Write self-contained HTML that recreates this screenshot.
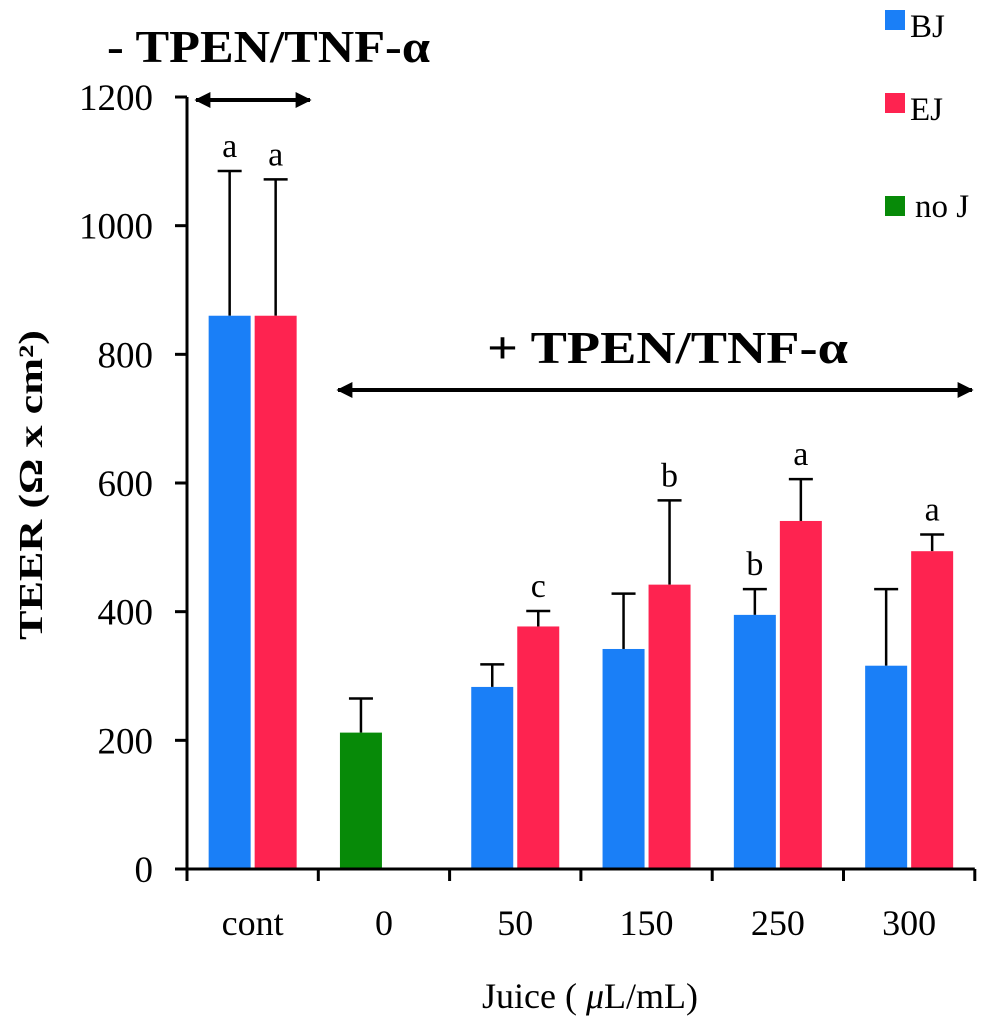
<!DOCTYPE html>
<html><head><meta charset="utf-8"><style>
body{margin:0;background:#fff;}
svg text{font-family:"Liberation Serif",serif;fill:#000;}
</style></head><body>
<svg width="993" height="1024" viewBox="0 0 993 1024" xmlns="http://www.w3.org/2000/svg">
<g id="plot"></g>
</svg>
<script>
const categories=["cont","0","50","150","250","300"];
const bjValues=[860,null,283,342,395,316];
const bjErr=[225,null,35,86,40,119];
const ejValues=[860,null,377,442,541,494];
const ejErr=[212,null,24,131,65,26];
const noJValues=[null,212,null,null,null,null];
const noJErr=[null,53,null,null,null,null];
const bjLetters=["a","","","","b",""];
const ejLetters=["a","","c","b","a","a"];
const yTicks=[0,200,400,600,800,1000,1200];

const NS="http://www.w3.org/2000/svg";
const g=document.getElementById('plot');
const y0=869,y1=97,x0=187,step=131.3;
const y=v=>y0-(v/1200)*(y0-y1);
const cx=i=>x0+step*(i+0.5);
function mk(t,a,txt){const e=document.createElementNS(NS,t);for(const k in a)e.setAttribute(k,a[k]);if(txt!==undefined)e.textContent=txt;g.appendChild(e);return e;}
const bw=42;
function bar(i,v,err,col,off,name){
  if(v==null)return;
  const x=cx(i)+off-bw/2;
  const m=x+bw/2;
  const eb=mk('line',{x1:m,x2:m,y1:y(v),y2:y(v+err),stroke:'#000','stroke-width':2.5});
  
  
  const cap=mk('line',{x1:m-12,x2:m+12,y1:y(v+err),y2:y(v+err),stroke:'#000','stroke-width':2.5});
  
  
  const r=mk('rect',{x:x,y:y(v),width:bw,height:y0-y(v),fill:col});
  
  
}
categories.forEach((c,i)=>{
  bar(i,bjValues[i],bjErr[i],'#1a7ff7',-23,'bar-bj-'+c);
  bar(i,ejValues[i],ejErr[i],'#fe2350',23,'bar-ej-'+c);
  bar(i,noJValues[i],noJErr[i],'#078a08',-23,'bar-noj-'+c);
  if(bjLetters[i]){const t=mk('text',{x:cx(i)-23,y:y(bjValues[i]+bjErr[i])-14,'font-size':34,'text-anchor':'middle'},bjLetters[i]);}
  if(ejLetters[i]){const t=mk('text',{x:cx(i)+23,y:y(ejValues[i]+ejErr[i])-14,'font-size':34,'text-anchor':'middle'},ejLetters[i]);}
  const tl=mk('text',{x:cx(i),y:935,'font-size':36,'text-anchor':'middle'},c);
  
  
});
const ya=mk('line',{x1:x0,x2:x0,y1:y1,y2:y0+1,stroke:'#000','stroke-width':3});


const xa=mk('line',{x1:x0-12,x2:x0+step*6,y1:y0,y2:y0,stroke:'#000','stroke-width':3});


for(let i=0;i<=6;i++){const t=mk('line',{x1:x0+step*i,x2:x0+step*i,y1:y0,y2:y0+12,stroke:'#000','stroke-width':3});}
yTicks.forEach(v=>{
  const t=mk('line',{x1:x0-12,x2:x0,y1:y(v),y2:y(v),stroke:'#000','stroke-width':3});
  
  
  const l=mk('text',{x:153,y:y(v)+13,'font-size':37,'text-anchor':'end'},v);
  
  
});
</script>
<svg style="position:absolute;left:0;top:0" width="993" height="1024" xmlns="http://www.w3.org/2000/svg">
<defs>
<marker id="ah2" viewBox="0 0 10 10" refX="9" refY="5" markerWidth="5" markerHeight="4" orient="auto-start-reverse"><path d="M0,0L10,5L0,10z" fill="#000"/></marker>
</defs>
<text transform="translate(42,485) rotate(-90)" font-size="34" font-weight="bold" text-anchor="middle" textLength="310" lengthAdjust="spacingAndGlyphs" font-family="Liberation Serif,serif">TEER  (Ω x  cm²)</text>
<text x="590" y="1008" font-size="36" text-anchor="middle" font-family="Liberation Serif,serif">Juice ( <tspan font-style="italic">μ</tspan>L/mL)</text>
<text x="107" y="62" font-size="46" font-weight="bold" textLength="323" lengthAdjust="spacingAndGlyphs" font-family="Liberation Serif,serif">- TPEN/TNF-α</text>
<line x1="196" y1="100" x2="310" y2="100" stroke="#000" stroke-width="4" marker-start="url(#ah2)" marker-end="url(#ah2)"/>
<text x="487" y="363" font-size="46" font-weight="bold" textLength="361" lengthAdjust="spacingAndGlyphs" font-family="Liberation Serif,serif">+ TPEN/TNF-α</text>
<line x1="338" y1="390" x2="972" y2="390" stroke="#000" stroke-width="4" marker-start="url(#ah2)" marker-end="url(#ah2)"/>
<g font-family="Liberation Serif,serif" font-size="33">
<rect x="885" y="10" width="20" height="20" fill="#1a7ff7"/>
<text x="910" y="37">BJ</text>
<rect x="885" y="93" width="20" height="20" fill="#fe2350"/>
<text x="910" y="120">EJ</text>
<rect x="885" y="196" width="20" height="20" fill="#078a08"/>
<text x="915" y="217">no J</text>
</g>
</svg>
</body></html>
